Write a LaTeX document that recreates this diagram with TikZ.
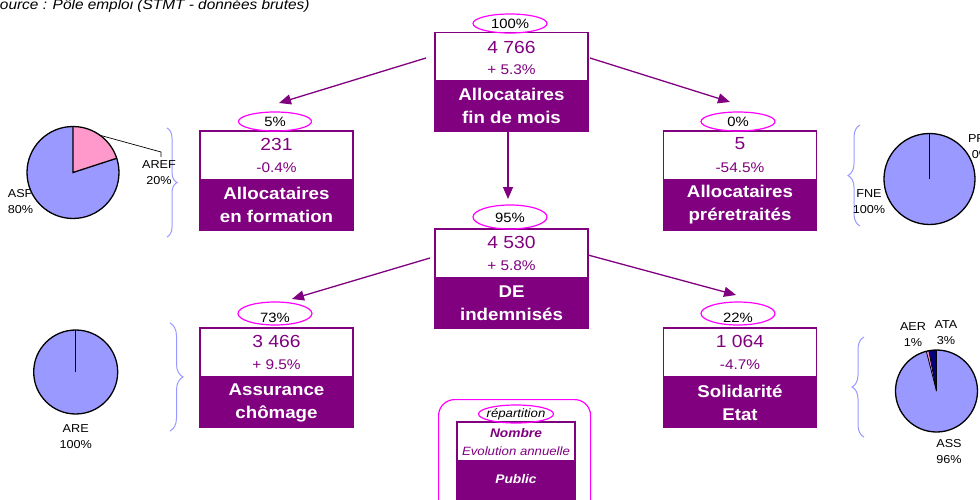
\documentclass[tikz,border=0pt]{standalone}
\usepackage{fontspec}
\setmainfont{Liberation Sans}[FakeStretch=1.1]
\usetikzlibrary{shapes.geometric,arrows.meta,decorations.pathreplacing}
\definecolor{pur}{HTML}{800080}
\definecolor{mag}{HTML}{FF00FF}
\definecolor{lav}{HTML}{9999FF}
\definecolor{pinkp}{HTML}{FF99CC}
\definecolor{navyp}{HTML}{000080}
\tikzset{
  whitebox/.style={draw=pur, line width=1.5pt, fill=white, minimum width=153pt, minimum height=49pt, inner sep=0pt},
  purplebox/.style={draw=pur, fill=pur, line width=1.5pt, minimum width=153pt, minimum height=50pt, inner sep=0pt, text=white, font=\fontsize{17}{23}\selectfont\bfseries, align=center},
  numtext/.style={text=pur, font=\fontsize{17.5}{20}\selectfont, inner sep=0pt},
  evotext/.style={text=pur, font=\fontsize{14}{16}\selectfont, inner sep=0pt},
  pctell/.style={draw=mag, line width=1.2pt, ellipse, minimum width=74pt, minimum height=19pt, inner sep=0pt},
  pcttext/.style={font=\fontsize{13.5}{16}\selectfont, inner sep=0pt},
  flow/.style={draw=pur, line width=1.3pt, -{Triangle[length=12pt,width=10pt]}},
  bracestyle/.style={draw=lav, line width=1pt, decorate},
  pielabel/.style={font=\fontsize{11.5}{16}\selectfont, align=center, inner sep=0pt},
  pieedge/.style={draw=black, line width=1.3pt},
  legtext/.style={font=\fontsize{12.5}{15}\selectfont, inner sep=0pt}
}
\begin{document}
\begin{tikzpicture}[x=1pt, y=-1pt]
\useasboundingbox (0,0) rectangle (980,500);
\clip (0,0) rectangle (980,500);

% source
\node[anchor=base west, font=\itshape\fontsize{14}{16}\selectfont, inner sep=0pt] (src) at (-10.5,10) {Source : Pôle emploi (STMT - données brutes)};

% ---- top box
\node[whitebox] (w0) at (511.5,57) {};
\node[purplebox] (p0) at (511.5,106) {Allocataires\\fin de mois};
\node[numtext] (n0) at (511.5,47) {4 766};
\node[evotext] (v0) at (511.5,70) {+ 5.3\%};
\node[pctell] (e0) at (510,23.5) {};
\node[pcttext] (t0) at (510,23.5) {100\%};

% ---- left top box
\node[whitebox] (w1) at (276.5,155.5) {};
\node[purplebox] (p1) at (276.5,205) {Allocataires\\en formation};
\node[numtext] (n1) at (276.5,144) {231};
\node[evotext] (v1) at (276.5,167.5) {-0.4\%};
\node[pctell, minimum width=73pt] (e1) at (275,121.5) {};
\node[pcttext] (t1) at (275,122) {5\%};

% ---- right top box
\node[whitebox] (w2) at (740,155.5) {};
\node[purplebox] (p2) at (740,205) {Allocataires\\préretraités};
\node[numtext] (n2) at (740,144) {5};
\node[evotext] (v2) at (740,167.5) {-54.5\%};
\node[pctell] (e2) at (738,121.5) {};
\node[pcttext] (t2) at (738,122) {0\%};

% ---- middle box
\node[whitebox] (w3) at (511.5,253.5) {};
\node[purplebox] (p3) at (511.5,303) {DE\\indemnisés};
\node[numtext] (n3) at (511.5,242) {4 530};
\node[evotext] (v3) at (511.5,265.5) {+ 5.8\%};
\node[pctell, minimum height=24pt] (e3) at (510,217) {};
\node[pcttext] (t3) at (510,218) {95\%};

% ---- bottom left box
\node[whitebox] (w4) at (276.5,352.5) {};
\node[purplebox] (p4) at (276.5,402.5) {Assurance\\chômage};
\node[numtext] (n4) at (276.5,341) {3 466};
\node[evotext] (v4) at (276.5,364.5) {+ 9.5\%};
\node[pctell, minimum height=23pt] (e4) at (275,313.5) {};
\node[pcttext] (t4) at (275,317.5) {73\%};

% ---- bottom right box
\node[whitebox] (w5) at (740,352.5) {};
\node[purplebox] (p5) at (740,402.5) {Solidarité\\Etat};
\node[numtext] (n5) at (740,341) {1 064};
\node[evotext] (v5) at (740,364.5) {-4.7\%};
\node[pctell, minimum height=23pt] (e5) at (738,313.5) {};
\node[pcttext] (t5) at (738,317.5) {22\%};

% ---- connectors
\coordinate (a1s) at (426,58);  \coordinate (a1e) at (279,103);
\coordinate (a2s) at (590,58);  \coordinate (a2e) at (730,102);
\coordinate (a0s) at (508,131); \coordinate (a0e) at (508,199);
\coordinate (a3s) at (430,258); \coordinate (a3e) at (292,299);
\coordinate (a4s) at (588,255); \coordinate (a4e) at (736,295);
\draw[flow] (a1s) -- (a1e);
\draw[flow] (a2s) -- (a2e);
\draw[flow] (a0s) -- (a0e);
\draw[flow] (a3s) -- (a3e);
\draw[flow] (a4s) -- (a4e);

% ---- braces
\coordinate (b1a) at (167,128); \coordinate (b1b) at (167,237);
\coordinate (b2a) at (860,226); \coordinate (b2b) at (860,125);
\coordinate (b3a) at (170,323); \coordinate (b3b) at (170,431);
\coordinate (b4a) at (864,437); \coordinate (b4b) at (864,337);
\draw[bracestyle, decoration={brace, amplitude=10pt}] (b1a) -- (b1b);
\draw[bracestyle, decoration={brace, amplitude=12pt}] (b2a) -- (b2b);
\draw[bracestyle, decoration={brace, amplitude=13pt}] (b3a) -- (b3b);
\draw[bracestyle, decoration={brace, amplitude=12pt}] (b4a) -- (b4b);

% ---- pie labels
\node[pielabel] (lAREF) at (159,173) {AREF\\20\%};
\node[pielabel] (lASP) at (20.5,202) {ASP\\80\%};
\node[pielabel] (lFNE) at (869,201.5) {FNE\\100\%};
\node[pielabel] (lPRP) at (981,147) {PRP\\0\%};
\node[pielabel] (lARE) at (75.7,437) {ARE\\100\%};
\node[pielabel] (lAER) at (913,335) {AER\\1\%};
\node[pielabel] (lATA) at (946,333) {ATA\\3\%};
\node[pielabel] (lASS) at (949,451.5) {ASS\\96\%};

% ---- pie 1 (formation)
\begin{scope}[shift={(73,172.5)}, y=1pt]
  \fill[lav] (0,0) circle[radius=46];
  \fill[pinkp] (0,0) -- (90:46) arc[start angle=90, end angle=18, radius=46] -- cycle;
  \draw[pieedge] (90:46) -- (0,0) -- (18:46);
  \draw[pieedge] (0,0) circle[radius=46];
  \draw[black, line width=0.7pt] (54:46) -- (88,20.5) -- (88,15.5);
\end{scope}

% ---- pie 2 (preretraites)
\begin{scope}[shift={(929.5,179)}, y=1pt]
  \fill[lav] (0,0) circle[radius=45.5];
  \draw[pieedge] (0,0) -- (90:45.5);
  \draw[pieedge] (0,0) circle[radius=45.5];
\end{scope}

% ---- pie 3 (assurance chomage)
\begin{scope}[shift={(75.7,372)}, y=1pt]
  \fill[lav] (0,0) circle[radius=42];
  \draw[pieedge] (0,0) -- (90:42);
  \draw[pieedge] (0,0) circle[radius=42];
\end{scope}

% ---- pie 4 (solidarite)
\begin{scope}[shift={(936.5,391)}, y=1pt]
  \fill[lav] (0,0) circle[radius=41];
  \fill[navyp] (0,0) -- (90:41) arc[start angle=90, end angle=100.8, radius=41] -- cycle;
  \fill[pinkp] (0,0) -- (100.8:41) arc[start angle=100.8, end angle=104.4, radius=41] -- cycle;
  \draw[black, line width=0.8pt] (90:41) -- (0,0) -- (100.8:41);
  \draw[black, line width=0.8pt] (0,0) -- (104.4:41);
  \draw[pieedge] (0,0) circle[radius=41];
\end{scope}

% ---- legend
\node[draw=mag, line width=1.2pt, rounded corners=16pt, minimum width=152pt, minimum height=120pt, anchor=north west, inner sep=0pt] (leg) at (438,399) {};
\node[whitebox, minimum width=118pt, minimum height=39pt] (lw) at (516,441.5) {};
\node[purplebox, minimum width=118pt, minimum height=50pt] (lp) at (516,486) {};
\node[pctell, minimum width=75pt, minimum height=18pt] (le) at (516,414) {};
\node[legtext, font=\itshape\fontsize{12}{14}\selectfont] (lrep) at (516,414.5) {répartition};
\node[legtext, text=pur, font=\bfseries\itshape\fontsize{12.5}{15}\selectfont] (lnom) at (516,433) {Nombre};
\node[legtext, text=pur, font=\itshape\fontsize{12}{15}\selectfont] (levo) at (516,451) {Evolution annuelle};
\node[legtext, text=white, font=\bfseries\itshape\fontsize{12.5}{15}\selectfont] (lpub) at (516,479) {Public};
\end{tikzpicture}
\end{document}
